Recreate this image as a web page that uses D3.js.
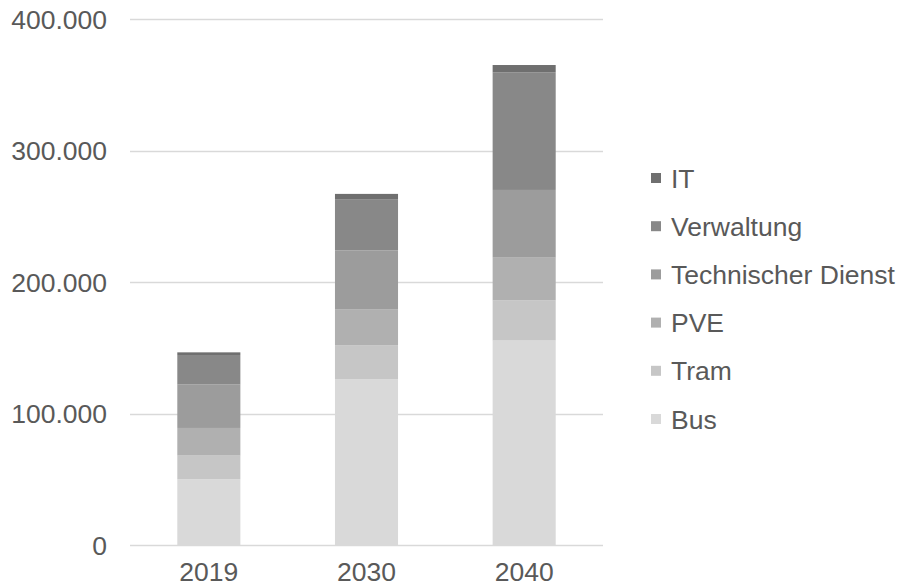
<!DOCTYPE html>
<html>
<head>
<meta charset="utf-8">
<script src="https://cdn.jsdelivr.net/npm/d3@7"></script>
<style>
  html, body { margin: 0; padding: 0; background: #fff; }
  svg { display: block; }
  text { font-family: "Liberation Sans", Arial, sans-serif; fill: #595959; }
</style>
</head>
<body>
<svg id="chart" width="905" height="587"></svg>
<script>
// Years on the x axis
const years = ["2019", "2030", "2040"];
// Series, stacked bottom to top
const seriesNames = ["Bus", "Tram", "PVE", "Technischer Dienst", "Verwaltung", "IT"];
const bus = [50000, 126000, 155500];
const tram = [18000, 26000, 30500];
const pve = [21000, 27000, 32500];
const technischerDienst = [33000, 45000, 51500];
const verwaltung = [22500, 39000, 89500];
const it = [2000, 4000, 5500];
// Y axis ticks
const yTicks = [0, 100000, 200000, 300000, 400000];
const yTickLabels = ["0", "100.000", "200.000", "300.000", "400.000"];
const colors = ["#d9d9d9", "#c6c6c6", "#b0b0b0", "#9c9c9c", "#888888", "#6f6f6f"];

const seriesValues = [bus, tram, pve, technischerDienst, verwaltung, it];
const rows = years.map((y, i) => {
  const r = { year: y };
  seriesNames.forEach((s, k) => { r[s] = seriesValues[k][i]; });
  return r;
});

const svg = d3.select("#chart");
const plot = { left: 130, right: 603, top: 19, bottom: 545 };
const fontSize = 26.5;

const x = d3.scaleBand().domain(years).range([plot.left, plot.right])
  .paddingInner(0.6).paddingOuter(0.3);
const y = d3.scaleLinear().domain([0, 400000]).range([plot.bottom, plot.top]);

// Horizontal gridlines
svg.append("g").selectAll("line").data(yTicks).join("line")
  .attr("x1", plot.left).attr("x2", plot.right)
  .attr("y1", d => Math.round(y(d)) + 0.5).attr("y2", d => Math.round(y(d)) + 0.5)
  .attr("stroke", "#d9d9d9").attr("stroke-width", 1.5);

// Y tick labels
svg.append("g").selectAll("text").data(yTicks).join("text")
  .attr("x", 107).attr("y", d => y(d))
  .attr("dy", "0.36em")
  .attr("text-anchor", "end")
  .style("font-size", fontSize + "px")
  .text((d, i) => yTickLabels[i]);

// Stacked bars
const stack = d3.stack().keys(seriesNames)(rows);
svg.append("g").selectAll("g").data(stack).join("g")
  .attr("fill", (d, i) => colors[i])
  .selectAll("rect").data(d => d).join("rect")
  .attr("x", d => x(d.data.year))
  .attr("width", x.bandwidth())
  .attr("y", d => y(d[1]))
  .attr("height", d => y(d[0]) - y(d[1]));

// X labels
svg.append("g").selectAll("text").data(years).join("text")
  .attr("x", d => x(d) + x.bandwidth() / 2)
  .attr("y", 581)
  .attr("text-anchor", "middle")
  .style("font-size", fontSize + "px")
  .text(d => d);

// Legend (top entry is the topmost series)
const legendItems = seriesNames.slice().reverse();
const legend = svg.append("g").selectAll("g").data(legendItems).join("g")
  .attr("transform", (d, i) => `translate(651, ${178 + i * 48.2})`);
legend.append("rect")
  .attr("x", 0).attr("y", -5).attr("width", 10).attr("height", 10)
  .attr("fill", d => colors[seriesNames.indexOf(d)]);
legend.append("text")
  .attr("x", 20).attr("y", 0).attr("dy", "0.36em")
  .style("font-size", fontSize + "px")
  .text(d => d);
</script>
</body>
</html>
